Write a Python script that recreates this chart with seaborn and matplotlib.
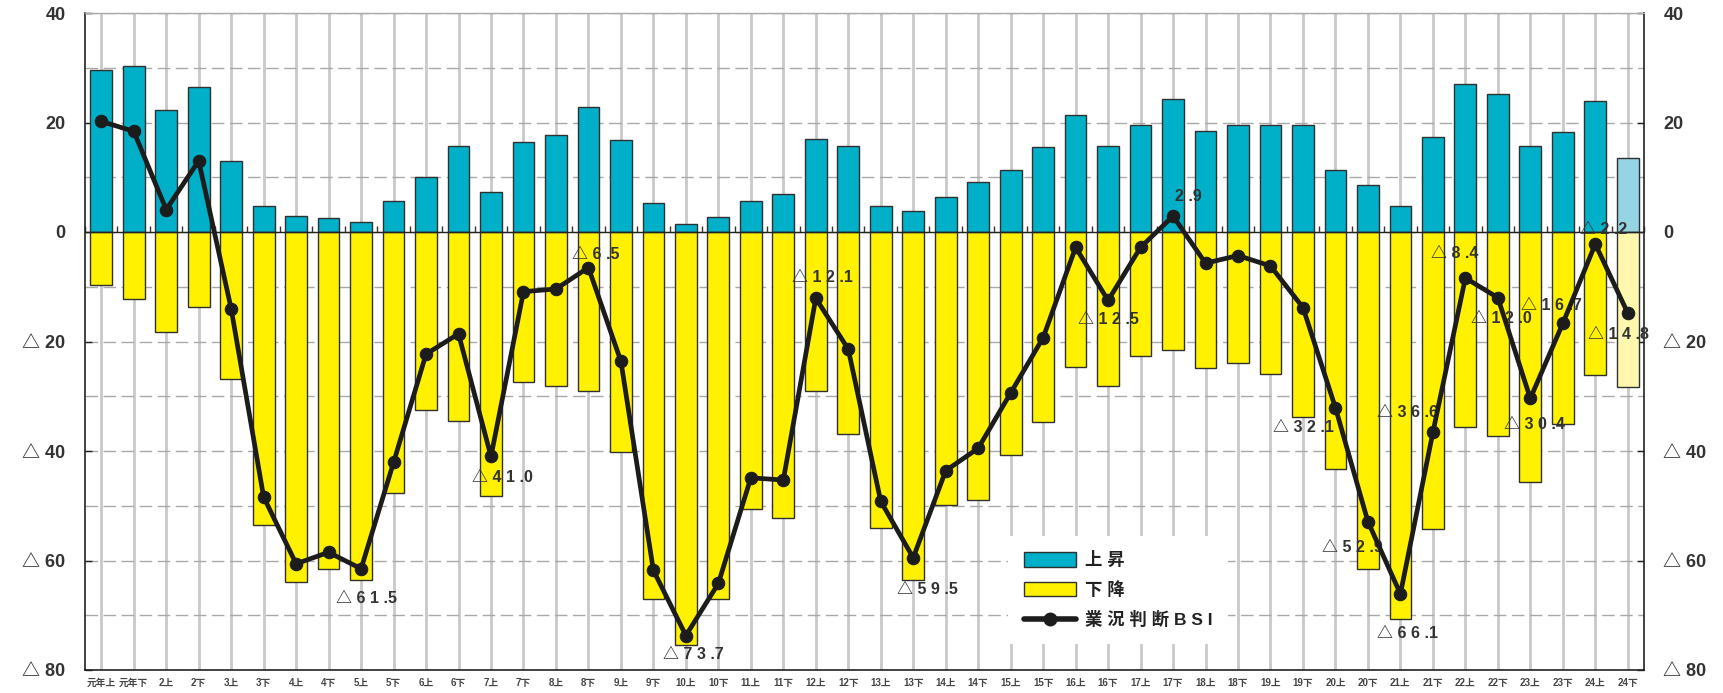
import numpy as np
import pandas as pd
import matplotlib
matplotlib.use("Agg")
import matplotlib.pyplot as plt
from matplotlib.ticker import MultipleLocator, FixedLocator
from matplotlib.patches import Patch
from matplotlib.lines import Line2D
import seaborn as sns

# ---------------- data ----------------
periods = ["元年上", "元年下"] + [f"{n}{h}" for n in range(2, 25) for h in ("上", "下")]

up = [29.6, 30.4, 22.3, 26.4, 13.0, 4.8, 3.0, 2.6, 1.9, 5.7, 10.1, 15.7,
      7.3, 16.5, 17.7, 22.8, 16.8, 5.3, 1.5, 2.8, 5.7, 7.0, 17.0, 15.7, 4.8,
      3.9, 6.4, 9.2, 11.4, 15.5, 21.4, 15.7, 19.6, 24.3, 18.5, 19.6, 19.6,
      19.6, 11.3, 8.6, 4.8, 17.4, 27.1, 25.2, 15.7, 18.3, 24.0, 13.5]

down = [-9.6, -12.2, -18.3, -13.7, -26.8, -53.5, -63.9, -61.5, -63.6, -47.7, -32.6, -34.5,
        -48.3, -27.4, -28.1, -29.1, -40.2, -67.0, -75.4, -67.0, -50.6, -52.3, -29.0, -36.9, -54.1,
        -63.6, -49.9, -48.9, -40.7, -34.7, -24.6, -28.1, -22.6, -21.5, -24.8, -23.9, -25.9,
        -33.7, -43.3, -61.5, -70.7, -54.3, -35.6, -37.2, -45.7, -35.1, -26.1, -28.3]

bsi = [20.2, 18.4, 4.1, 13.0, -14.0, -48.4, -60.6, -58.5, -61.5, -42.1, -22.3, -18.6,
       -41.0, -10.9, -10.4, -6.5, -23.6, -61.8, -73.7, -64.2, -44.9, -45.3, -12.1, -21.4, -49.2,
       -59.5, -43.6, -39.5, -29.4, -19.3, -2.8, -12.5, -2.8, 2.9, -5.7, -4.3, -6.2,
       -13.8, -32.1, -52.9, -66.1, -36.6, -8.4, -12.0, -30.4, -16.7, -2.2, -14.8]

# indices of labelled BSI points and label offsets (pixels)
label_offsets = {
    8: (5, -30), 12: (11, -21), 15: (7, 13), 18: (8, -19), 22: (7, 21),
    25: (14, -32), 31: (0, -19), 33: (15, 20), 38: (-32, -20), 39: (-16, -26),
    40: (7, -40), 41: (-25, 20), 42: (-11, 24), 43: (4, -21), 44: (4, -26),
    45: (-11, 18), 46: (8, 15), 47: (-9, -21),
}

y_ticks = [40, 20, 0, -20, -40, -60, -80]

# ---------------- style ----------------
sns.set_theme(style="white")
plt.rcParams["font.family"] = ["Liberation Sans", "Noto Sans CJK JP", "DejaVu Sans"]

UP_C, DOWN_C = "#00AFC8", "#FFF100"
UP_LAST, DOWN_LAST = "#95D5E3", "#FFF7AE"
n = len(periods)
up_colors = [UP_C] * (n - 1) + [UP_LAST]
down_colors = [DOWN_C] * (n - 1) + [DOWN_LAST]

df = pd.DataFrame({"period": periods, "up": up, "down": down, "bsi": bsi})

fig = plt.figure(figsize=(17.24, 6.93), dpi=100)
ax = fig.add_axes([85 / 1724, 1 - 670 / 693, (1644 - 85) / 1724, (670 - 13) / 693])

sns.barplot(data=df, x="period", y="up", hue="period", palette=up_colors, legend=False,
            width=0.67, edgecolor="#303030", linewidth=1.0, saturation=1, ax=ax, zorder=2)
sns.barplot(data=df, x="period", y="down", hue="period", palette=down_colors, legend=False,
            width=0.67, edgecolor="#303030", linewidth=1.0, saturation=1, ax=ax, zorder=2)

xpos = np.arange(n)
sns.lineplot(x=xpos, y=df["bsi"].values, sort=False, color="#1c1c1c", lw=3.4, marker="o",
             markersize=9, markeredgecolor="#1c1c1c", markerfacecolor="#1c1c1c", ax=ax, zorder=5)

def fmt_label(v):
    s = f"{abs(v):.1f}"
    ip, dp = s.split(".")
    body = " ".join(ip) + " ." + dp
    return ("△ " + body) if v < 0 else body

for i, (dx, dy) in label_offsets.items():
    ax.annotate(fmt_label(bsi[i]), xy=(i, bsi[i]), xytext=(dx, dy), textcoords="offset pixels",
                ha="center", va="center", fontsize=11.5, fontweight="bold", color="#333333",
                zorder=4)

# axes & grid
ax.set_xlim(-0.5, n - 0.5)
ax.set_ylim(-80, 40)
ax.set_xlabel("")
ax.set_ylabel("")
ax.set_xticks(xpos)
ax.set_xticklabels(periods, fontsize=7, fontweight="bold", color="#444444")
ax.tick_params(axis="x", length=0, pad=6)

ax.yaxis.set_major_locator(FixedLocator(y_ticks))
ax.yaxis.set_minor_locator(MultipleLocator(10))
ax.set_yticklabels([("△ " + str(abs(t))) if t < 0 else str(t) for t in y_ticks])
ax.tick_params(axis="y", which="major", direction="in", length=5, width=1, color="#222222",
               labelsize=13, labelcolor="#333333", left=True, right=True,
               labelleft=True, labelright=True, pad=14)
ax.tick_params(axis="y", which="minor", length=0)
for lab in ax.get_yticklabels():
    lab.set_fontweight("bold")

ax.set_axisbelow(True)
ax.grid(axis="x", which="major", color="#c9c9c9", lw=2.0)
ax.grid(axis="y", which="both", color="#a9a9a9", lw=1.0, ls=(0, (9, 4)))

for side in ("left", "right", "bottom"):
    ax.spines[side].set_color("#222222")
    ax.spines[side].set_linewidth(1.2)
ax.spines["top"].set_color("#aaaaaa")
ax.spines["top"].set_linewidth(1.0)

ax.axhline(0, color="#222222", lw=1.0, zorder=3)
sec = ax.secondary_xaxis(2 / 3)
sec.set_xticks(np.arange(-0.5, n, 1.0))
sec.tick_params(axis="x", direction="out", length=4, width=1, color="#333333",
                labeltop=False, labelbottom=False)
sec.spines["top"].set_visible(False)
sec.spines["bottom"].set_visible(False)

# legend
handles = [
    Patch(facecolor=UP_C, edgecolor="#303030", lw=1.0, label="上 昇"),
    Patch(facecolor=DOWN_C, edgecolor="#303030", lw=1.0, label="下 降"),
    Line2D([0], [0], color="#1c1c1c", lw=4, marker="o", markersize=9, label="業 況 判 断 B S I"),
]
leg = ax.legend(handles=handles, loc="center", bbox_to_anchor=(0.6626, 0.122),
                frameon=True, facecolor="white", edgecolor="none", framealpha=1,
                fontsize=12.5, handlelength=3.0, handleheight=0.9, labelspacing=0.75,
                borderpad=0.9, handletextpad=0.5, borderaxespad=0)
leg.set_zorder(6)
for t in leg.get_texts():
    t.set_color("#222222")
    t.set_fontweight("bold")

fig.savefig("out.png", dpi=100)
